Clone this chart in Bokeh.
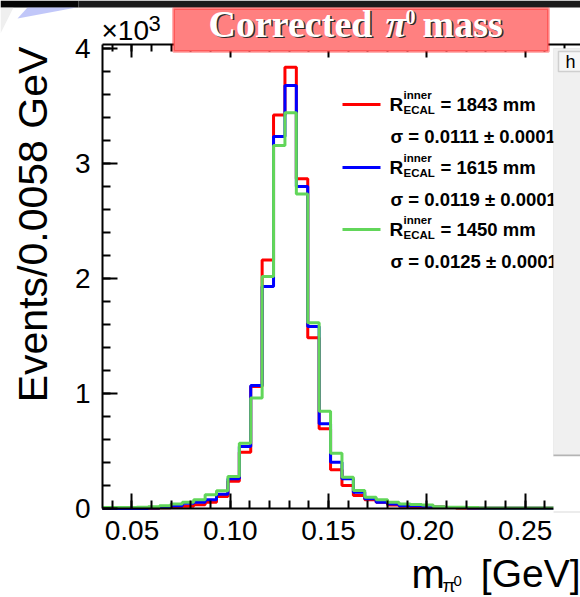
import numpy as np
from math import pi
from bokeh.plotting import figure
from bokeh.models import (Range1d, LinearAxis, SingleIntervalTicker, NumeralTickFormatter,
                          CustomJSTickFormatter, BoxAnnotation, Label, PolyAnnotation)
from bokeh.embed import file_html
from bokeh.resources import INLINE

# ---------------- data (events per bin, in units of 10^3) ----------------
bin_lo = 0.035
bin_width = 0.0058
counts_1843 = [0.0, 0.0, 0.0, 0.0, 0.003, 0.006, 0.015, 0.02, 0.032, 0.055,
               0.105, 0.237, 0.49, 1.06, 2.162, 3.423, 3.837, 2.867, 1.484, 0.693,
               0.336, 0.2, 0.113, 0.076, 0.055, 0.03, 0.02, 0.015, 0.015, 0.012,
               0.008, 0.005, 0.005, 0.003, 0.003, 0.003, 0.003, 0.002, 0.002, 0.002,
               0.002, 0.002]
counts_1615 = [0.0, 0.0, 0.0, 0.0, 0.004, 0.01, 0.025, 0.045, 0.055, 0.076,
               0.125, 0.258, 0.539, 1.07, 1.93, 3.235, 3.678, 2.80, 1.583, 0.736,
               0.403, 0.258, 0.142, 0.085, 0.055, 0.04, 0.025, 0.025, 0.02, 0.01,
               0.008, 0.008, 0.005, 0.003, 0.003, 0.003, 0.003, 0.002, 0.002, 0.002,
               0.002, 0.002]
counts_1450 = [0.008, 0.008, 0.008, 0.01, 0.015, 0.025, 0.04, 0.055, 0.076, 0.119,
               0.155, 0.278, 0.568, 0.962, 2.017, 3.157, 3.441, 2.736, 1.615, 0.846,
               0.481, 0.272, 0.157, 0.098, 0.076, 0.055, 0.04, 0.035, 0.03, 0.015,
               0.01, 0.01, 0.008, 0.005, 0.005, 0.005, 0.005, 0.005, 0.005, 0.005,
               0.005, 0.005]
series_names = ["1843", "1615", "1450"]
sigma_values = ["0.0111", "0.0119", "0.0125"]
sigma_errors = ["0.0001", "0.0001", "0.0001"]
y_tick_labels = ["0", "1", "2", "3", "4"]

W, H = 580, 597
FL, FR, FT, FB = 102, 580, 44, 508      # pixel box of the histogram frame
XPX = 1966.0                            # pixels per GeV
YPX = 115.0                             # pixels per 10^3 events

x_lo, y_lo, y_hi = 0.035, 0.0, 4.035    # histogram frame limits
x_hi = x_lo + (FR - FL) / XPX

# the Bokeh frame spans the whole canvas; axes are pinned to the histogram frame
p = figure(width=W, height=H, output_backend="svg", toolbar_location=None,
           x_range=Range1d(x_lo - FL / XPX, x_lo + (W - FL) / XPX),
           y_range=Range1d(y_lo - (H - FB) / YPX, y_hi + FT / YPX),
           x_axis_location=None, y_axis_location=None,
           min_border_left=0, min_border_right=0, min_border_top=0,
           min_border_bottom=0)
p.outline_line_color = None
p.xgrid.visible = False
p.ygrid.visible = False
p.background_fill_color = "white"
p.border_fill_color = "white"

TICKFONT = "Liberation Sans"


def style_axis(ax):
    ax.axis_line_color = "black"
    ax.axis_line_width = 2
    ax.major_tick_in = 15
    ax.major_tick_out = 0
    ax.minor_tick_in = 8
    ax.minor_tick_out = 0
    ax.major_tick_line_width = 2
    ax.minor_tick_line_width = 2
    ax.major_tick_line_color = "black"
    ax.minor_tick_line_color = "black"
    ax.major_label_text_font = TICKFONT
    ax.major_label_text_font_size = "28px"
    ax.major_label_text_color = "black"


xb = LinearAxis(ticker=SingleIntervalTicker(interval=0.05, num_minor_ticks=5),
                formatter=NumeralTickFormatter(format="0.00"),
                fixed_location=y_lo, bounds=(x_lo, x_hi))
style_axis(xb)
xb.major_label_standoff = 12
p.add_layout(xb, "below")

xt = LinearAxis(ticker=SingleIntervalTicker(interval=0.05, num_minor_ticks=5),
                formatter=CustomJSTickFormatter(code="return ''"),
                fixed_location=y_hi, bounds=(x_lo, x_hi))
style_axis(xt)
xt.major_tick_in = 13
xt.minor_tick_in = 7
p.add_layout(xt, "above")

yl = LinearAxis(ticker=SingleIntervalTicker(interval=1, num_minor_ticks=5),
                major_label_overrides={i: t for i, t in enumerate(y_tick_labels)},
                fixed_location=x_lo, bounds=(y_lo, y_hi))
style_axis(yl)
yl.major_label_standoff = 12
p.add_layout(yl, "left")

# ---------------- histograms ----------------
colors = ["#ff0000", "#0000ff", "#62d65a"]
for cnts, col in zip([counts_1843, counts_1615, counts_1450], colors):
    n = len(cnts)
    edges = bin_lo + bin_width * np.arange(n + 1)
    ys = list(cnts) + [cnts[-1]]
    p.step(x=edges, y=ys, mode="after", line_color=col, line_width=3)


# ---------------- decorations in canvas pixel coordinates (y down) ----------------
def box(l, r, t, b, fill, line=None, lw=0, alpha=1.0):
    bx = BoxAnnotation(left=l, right=r, top=t, bottom=b,
                       left_units="canvas", right_units="canvas",
                       top_units="canvas", bottom_units="canvas",
                       fill_color=fill, fill_alpha=alpha,
                       line_color=line, line_width=lw, level="overlay")
    p.add_layout(bx)


def lab(x, y, text, size, font=TICKFONT, style="normal", color="black",
        align="left", angle=0.0):
    # y is the vertical middle of the text line
    lb = Label(x=x, y=y, x_units="canvas", y_units="canvas", text=text,
               text_font=font, text_font_size=f"{size}px", text_font_style=style,
               text_color=color, text_align=align, text_baseline="middle",
               angle=angle, level="overlay")
    p.add_layout(lb)


# top dark band and slide pieces
box(0, 78, 0, 7, "#050505")
box(78, 580, 0, 7, "#1c1c1c")
p.add_layout(PolyAnnotation(xs=[17, 27, 76], ys=[18, 7, 7],
                            xs_units="canvas", ys_units="canvas",
                            fill_color="#6574f0", line_color=None, level="overlay"))
p.add_layout(PolyAnnotation(xs=[0, 13, 0], ys=[7, 7, 33],
                            xs_units="canvas", ys_units="canvas",
                            fill_color="#d8d8d8", line_color=None, level="overlay"))

# title box
box(173, 548, 8, 51, "#ff8080", line="#ff0000", lw=3)
SERIF = "Liberation Serif"
for dx, dy, col in [(1.5, 1.5, "#2a2a2a"), (0, 0, "white")]:
    lab(208 + dx, 23 + dy, "Corrected", 38, font=SERIF, style="bold", color=col)
    lab(385 + dx, 23 + dy, "\u03c0", 38, font=SERIF, style="bold italic", color=col)
    lab(405 + dx, 16 + dy, "0", 20, font=SERIF, style="bold", color=col)
    lab(422 + dx, 23 + dy, "mass", 38, font=SERIF, style="bold", color=col)

# exponent label
lab(101, 30, "\u00d710", 28)
lab(148, 23, "3", 22)

# axis titles
lab(32, 224, "Events/0.0058 GeV", 41, align="center", angle=pi / 2)
lab(411, 573, "m", 40)
lab(442, 585, "\u03c0", 19)
lab(453, 580, "0", 15)
lab(580, 573, "[GeV]", 39, align="right")

# legend
leg_y = [104, 167, 229]
for i, (name, col) in enumerate(zip(series_names, colors)):
    y0 = leg_y[i]
    box(342, 380, y0 - 1.5, y0 + 1.5, col)
    lab(389, y0, "R", 19, style="bold")
    lab(403, y0 - 10, "inner", 11.5, style="bold")
    lab(403, y0 + 5, "ECAL", 11.5, style="bold")
    lab(440, y0, f"= {name} mm", 18.5, style="bold")
    lab(390, y0 + 32, f"\u03c3 = {sigma_values[i]} \u00b1 {sigma_errors[i]}", 18.5, style="bold")

# side GUI panel overlapping the canvas
box(553, 580, 48, 455, "#f0f0f0", line="#d4d4d4", lw=1)
box(553, 580, 454, 456, "#b4b4b4")
box(553, 580, 456, 511, "white")
box(553, 580, 511, 512, "#d8d8d8")
box(558, 582, 51, 71, "#f7f7f7", line="#7a7a7a", lw=1.5)
lab(565, 61, "h", 18)

open("out.html", "w").write(file_html(p, INLINE))
